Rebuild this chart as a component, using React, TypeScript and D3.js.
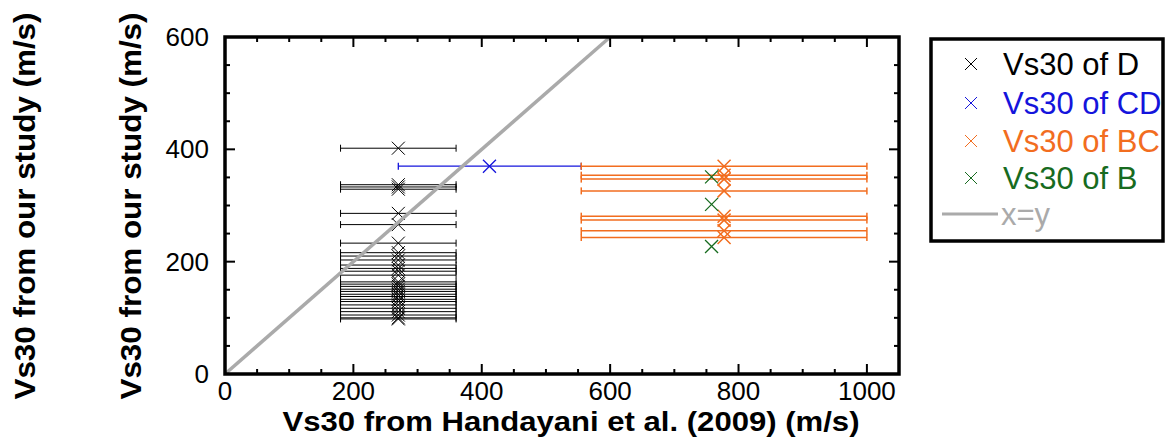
import React from "react";
import * as d3 from "d3";

// Vs30 pairs: x = Handayani et al. (2009) class value, y = this study
const D_X = 270;
const D_XERR: [number, number] = [180, 360];
const D_Y = [402, 337, 333, 329, 286, 266, 233, 216, 210, 203, 194, 188, 183, 176, 164, 160, 156, 151, 147, 142, 138, 133, 129, 123, 117, 111, 105, 100, 98];

const CD_X = 412;
const CD_XERR: [number, number] = [270, 555];
const CD_Y = [370];

const BC_X = 777.5;
const BC_XERR: [number, number] = [555, 1000];
const BC_Y = [370, 354, 347, 326, 281, 274, 255, 243];

const B_X = 758;
const B_Y = [351, 302, 227];

const X_TICKS = [0, 200, 400, 600, 800, 1000];
const Y_TICKS = [0, 200, 400, 600];

const LEGEND = [
  { label: "Vs30 of D", color: "#000000" },
  { label: "Vs30 of CD", color: "#1414dc" },
  { label: "Vs30 of BC", color: "#f26d1f" },
  { label: "Vs30 of B", color: "#176b1f" },
];

const W = 1165;
const H = 441;
const FONT = "'Liberation Sans', Arial, Helvetica, sans-serif";

const x = d3.scaleLinear().domain([0, 1050]).range([225, 899]);
const y = d3.scaleLinear().domain([0, 600]).range([374, 37]);

function Cross({ cx, cy, r, color, width = 1 }: { cx: number; cy: number; r: number; color: string; width?: number }) {
  return (
    <path
      d={`M${cx - r},${cy - r}L${cx + r},${cy + r}M${cx - r},${cy + r}L${cx + r},${cy - r}`}
      stroke={color}
      strokeWidth={width}
      fill="none"
    />
  );
}

function ErrorSeries({ xs, range, ys, color, width }: { xs: number; range: [number, number] | null; ys: number[]; color: string; width: number }) {
  return (
    <g>
      {range &&
        ys.map((v, i) => {
          const yy = y(v);
          const x0 = x(range[0]);
          const x1 = x(range[1]);
          return (
            <g key={"e" + i} stroke={color} strokeWidth={width}>
              <line x1={x0} x2={x1} y1={yy} y2={yy} />
              <line x1={x0} x2={x0} y1={yy - 3.5} y2={yy + 3.5} />
              <line x1={x1} x2={x1} y1={yy - 3.5} y2={yy + 3.5} />
            </g>
          );
        })}
      {ys.map((v, i) => (
        <Cross key={"m" + i} cx={x(xs)} cy={y(v)} r={6.5} color={color} width={width} />
      ))}
    </g>
  );
}

export default function App() {
  const xMinor = d3.range(0, 1051, 50);
  const yMinor = d3.range(0, 601, 50);
  const [left, right] = x.range();
  const [bottom, top] = y.range();
  const diagEnd = Math.min(600, 1050);

  return (
    <svg width={W} height={H} style={{ position: "absolute", left: 0, top: 0, background: "#fff" }} fontFamily={FONT}>
      <rect width={W} height={H} fill="#fff" />

      {/* error bars and markers */}
      <ErrorSeries xs={D_X} range={D_XERR} ys={D_Y} color="#000" width={1} />
      <ErrorSeries xs={CD_X} range={CD_XERR} ys={CD_Y} color={LEGEND[1].color} width={1.3} />
      <ErrorSeries xs={BC_X} range={BC_XERR} ys={BC_Y} color={LEGEND[2].color} width={1.5} />
      <ErrorSeries xs={B_X} range={null} ys={B_Y} color={LEGEND[3].color} width={1.3} />

      {/* x = y reference line */}
      <line x1={x(0)} y1={y(0)} x2={x(diagEnd)} y2={y(diagEnd)} stroke="#aaaaaa" strokeWidth={3.5} />

      {/* ticks on all four sides, pointing inward */}
      <g stroke="#000" strokeWidth={2}>
        {xMinor.map((v) => {
          const len = v % 200 === 0 ? 10 : 5;
          return (
            <g key={"xt" + v}>
              <line x1={x(v)} x2={x(v)} y1={bottom} y2={bottom - len} />
              <line x1={x(v)} x2={x(v)} y1={top} y2={top + len} />
            </g>
          );
        })}
        {yMinor.map((v) => {
          const len = v % 200 === 0 ? 10 : 5;
          return (
            <g key={"yt" + v}>
              <line x1={left} x2={left + len} y1={y(v)} y2={y(v)} />
              <line x1={right} x2={right - len} y1={y(v)} y2={y(v)} />
            </g>
          );
        })}
      </g>

      {/* frame */}
      <rect x={left} y={top} width={right - left} height={bottom - top} fill="none" stroke="#000" strokeWidth={3.5} />

      {/* tick labels */}
      <g fontSize={26} fill="#000">
        {X_TICKS.map((v) => (
          <text key={"xl" + v} x={x(v)} y={400} textAnchor="middle">
            {v}
          </text>
        ))}
        {Y_TICKS.map((v) => (
          <text key={"yl" + v} x={209} y={y(v) + 9} textAnchor="end">
            {v}
          </text>
        ))}
      </g>

      {/* axis titles */}
      <text x={571} y={431} textAnchor="middle" fontSize={28} fontWeight="bold" textLength={577} lengthAdjust="spacingAndGlyphs">
        Vs30 from Handayani et al. (2009) (m/s)
      </text>
      {[35, 141].map((bx, i) => (
        <text
          key={"yt" + i}
          transform={`translate(${bx},206) rotate(-90)`}
          textAnchor="middle"
          fontSize={30}
          fontWeight="bold"
          textLength={387}
          lengthAdjust="spacingAndGlyphs"
        >
          Vs30 from our study (m/s)
        </text>
      ))}

      {/* legend */}
      <g>
        <rect x={931} y={39} width={232} height={202} fill="#fff" stroke="#000" strokeWidth={3.5} />
        {LEGEND.map((d, i) => {
          const my = [64, 103, 141, 178][i];
          return (
            <g key={d.label}>
              <Cross cx={971} cy={my} r={6} color={d.color} width={1} />
              <text x={1003} y={my + 11} fontSize={31} fill={d.color}>
                {d.label}
              </text>
            </g>
          );
        })}
        <line x1={942} x2={998} y1={214} y2={214} stroke="#aaaaaa" strokeWidth={3} />
        <text x={1001} y={225} fontSize={31} fill="#aaaaaa">
          x=y
        </text>
      </g>
    </svg>
  );
}
